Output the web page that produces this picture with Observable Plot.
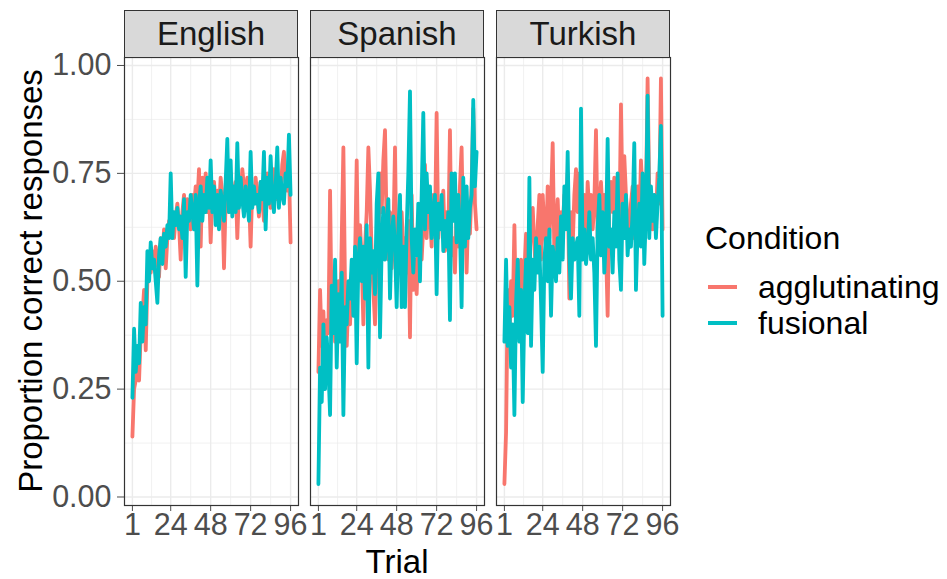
<!DOCTYPE html>
<html><head><meta charset="utf-8">
<script src="https://cdn.jsdelivr.net/npm/d3@7"></script>
<script src="https://cdn.jsdelivr.net/npm/@observablehq/plot@0.6"></script>
<style>
body{margin:0;background:#fff;font-family:"Liberation Sans",Arial,sans-serif;}
#wrap{position:relative;width:947px;height:579px;overflow:hidden;background:#fff;}
#wrap svg{position:absolute;left:0;top:0;}
.strip{position:absolute;box-sizing:border-box;background:#D9D9D9;border:1.2px solid #333333;color:#1A1A1A;font-size:33px;display:flex;align-items:center;justify-content:center;line-height:1;}
.t{position:absolute;white-space:nowrap;line-height:1;}
.key{position:absolute;height:4px;width:29px;}
</style></head>
<body><div id="wrap"></div>
<script>
const languages = ["English", "Spanish", "Turkish"];
const conditions = ["agglutinating", "fusional"];
const conditionColors = ["#F8766D", "#00BFC4"];
const trials = d3.range(1, 97);
const xTicks = [1, 24, 48, 72, 96];
const xMinor = [12.5, 36, 60, 84];
const yTicks = [0, 0.25, 0.5, 0.75, 1];
const yMinor = [0.125, 0.375, 0.625, 0.875];

const englishAgg = [
0.14,0.25,0.27,0.32,0.27,0.38,0.42,0.48,0.34,0.50,0.55,0.52,
0.57,0.53,0.58,0.55,0.51,0.60,0.56,0.62,0.53,0.60,0.64,0.62,
0.66,0.60,0.65,0.68,0.63,0.55,0.66,0.70,0.64,0.69,0.66,0.62,
0.70,0.67,0.72,0.68,0.76,0.58,0.74,0.70,0.75,0.66,0.72,0.59,
0.70,0.73,0.68,0.71,0.66,0.74,0.70,0.53,0.69,0.72,0.66,0.75,
0.70,0.68,0.73,0.60,0.71,0.69,0.76,0.72,0.67,0.74,0.70,0.58,
0.72,0.68,0.74,0.70,0.65,0.73,0.69,0.64,0.72,0.75,0.70,0.67,
0.73,0.76,0.69,0.72,0.74,0.70,0.77,0.80,0.73,0.71,0.76,0.59];
const englishFus = [
0.23,0.39,0.29,0.35,0.31,0.45,0.36,0.44,0.40,0.57,0.50,0.59,
0.53,0.55,0.50,0.45,0.56,0.60,0.54,0.61,0.58,0.63,0.60,0.75,
0.60,0.66,0.63,0.67,0.62,0.65,0.60,0.69,0.51,0.66,0.64,0.70,
0.66,0.62,0.70,0.49,0.68,0.72,0.64,0.70,0.66,0.74,0.67,0.78,
0.66,0.72,0.63,0.70,0.62,0.71,0.68,0.64,0.73,0.83,0.66,0.78,
0.65,0.72,0.66,0.82,0.67,0.74,0.69,0.65,0.72,0.68,0.64,0.80,
0.67,0.72,0.68,0.70,0.66,0.73,0.69,0.80,0.62,0.74,0.68,0.79,
0.70,0.66,0.72,0.81,0.67,0.74,0.70,0.68,0.75,0.72,0.84,0.70];
const spanishAgg = [
0.29,0.48,0.35,0.43,0.31,0.41,0.38,0.71,0.40,0.52,0.36,0.45,
0.50,0.39,0.60,0.81,0.48,0.35,0.46,0.40,0.52,0.44,0.55,0.78,
0.50,0.63,0.55,0.40,0.58,0.66,0.81,0.71,0.56,0.48,0.40,0.55,
0.60,0.75,0.66,0.78,0.85,0.62,0.55,0.66,0.53,0.60,0.81,0.50,
0.61,0.58,0.66,0.57,0.60,0.52,0.64,0.37,0.70,0.48,0.55,0.47,
0.59,0.66,0.55,0.63,0.77,0.60,0.72,0.66,0.58,0.70,0.62,0.89,
0.60,0.68,0.64,0.71,0.57,0.66,0.60,0.85,0.56,0.60,0.52,0.66,
0.58,0.72,0.81,0.60,0.70,0.52,0.66,0.61,0.72,0.90,0.68,0.62];
const spanishFus = [
0.03,0.30,0.22,0.40,0.25,0.37,0.30,0.19,0.49,0.38,0.55,0.30,
0.47,0.36,0.52,0.19,0.44,0.40,0.50,0.46,0.55,0.42,0.58,0.31,
0.55,0.60,0.50,0.58,0.46,0.63,0.30,0.60,0.52,0.57,0.47,0.68,
0.75,0.37,0.58,0.67,0.55,0.63,0.69,0.46,0.60,0.65,0.58,0.44,
0.62,0.70,0.44,0.58,0.44,0.62,0.75,0.94,0.60,0.52,0.62,0.56,
0.68,0.50,0.70,0.89,0.62,0.75,0.66,0.72,0.60,0.66,0.70,0.47,
0.68,0.62,0.70,0.57,0.64,0.58,0.66,0.41,0.75,0.64,0.75,0.59,
0.70,0.62,0.44,0.74,0.58,0.72,0.60,0.67,0.70,0.92,0.72,0.80];
const turkishAgg = [
0.03,0.15,0.48,0.36,0.50,0.42,0.63,0.40,0.50,0.46,0.55,0.38,
0.52,0.61,0.48,0.55,0.62,0.67,0.58,0.52,0.63,0.70,0.55,0.70,
0.62,0.58,0.72,0.60,0.68,0.82,0.56,0.62,0.69,0.58,0.66,0.62,
0.70,0.64,0.75,0.46,0.66,0.58,0.70,0.76,0.66,0.75,0.72,0.64,
0.70,0.60,0.73,0.66,0.70,0.62,0.68,0.85,0.60,0.66,0.73,0.65,
0.70,0.58,0.42,0.68,0.73,0.66,0.74,0.62,0.70,0.60,0.91,0.66,
0.79,0.70,0.64,0.58,0.68,0.72,0.60,0.66,0.72,0.62,0.78,0.70,
0.74,0.68,0.97,0.70,0.66,0.62,0.70,0.64,0.75,0.68,0.97,0.62];
const turkishFus = [
0.36,0.55,0.35,0.44,0.30,0.40,0.19,0.45,0.55,0.36,0.48,0.22,
0.44,0.55,0.38,0.74,0.35,0.55,0.48,0.60,0.52,0.58,0.45,0.29,
0.55,0.60,0.50,0.62,0.42,0.58,0.55,0.50,0.60,0.52,0.65,0.55,
0.72,0.62,0.80,0.56,0.46,0.60,0.55,0.58,0.60,0.42,0.90,0.55,
0.62,0.54,0.58,0.66,0.55,0.60,0.52,0.35,0.62,0.70,0.56,0.66,
0.52,0.60,0.83,0.58,0.62,0.52,0.66,0.58,0.75,0.55,0.48,0.68,
0.60,0.70,0.56,0.62,0.58,0.66,0.82,0.48,0.62,0.68,0.58,0.75,
0.54,0.66,0.93,0.60,0.72,0.64,0.70,0.60,0.68,0.74,0.86,0.42];

const series = [
  ["English", "agglutinating", englishAgg], ["English", "fusional", englishFus],
  ["Spanish", "agglutinating", spanishAgg], ["Spanish", "fusional", spanishFus],
  ["Turkish", "agglutinating", turkishAgg], ["Turkish", "fusional", turkishFus]
];
const data = [];
for (const [language, condition, vals] of series)
  vals.forEach((v, i) => data.push({language, condition, trial: trials[i], prop: v}));

const W = 947, H = 579, mL = 123, mR = 276, mT = 57, mB = 74;
const plot = Plot.plot({
  width: W, height: H,
  marginLeft: mL, marginRight: mR, marginTop: mT, marginBottom: mB,
  style: {background: "transparent", fontSize: "30.5px", fontFamily: "'Liberation Sans', Arial, sans-serif", color: "#4D4D4D", overflow: "visible"},
  fx: {domain: languages, paddingInner: 0.067, paddingOuter: 0, axis: null},
  x: {domain: [-3.75, 100.75], ticks: xTicks, tickSize: 6, tickPadding: 2, label: null, tickFormat: d => String(d)},
  y: {domain: [-0.0197, 1.0185], ticks: yTicks, tickSize: 7, tickPadding: 6, label: null, tickFormat: d3.format(".2f")},
  color: {domain: conditions, range: conditionColors},
  marks: [
    Plot.gridX(xMinor, {stroke: "#EBEBEB", strokeOpacity: 1, strokeWidth: 0.7}),
    Plot.gridY(yMinor, {stroke: "#EBEBEB", strokeOpacity: 1, strokeWidth: 0.7}),
    Plot.gridX(xTicks, {stroke: "#EBEBEB", strokeOpacity: 1, strokeWidth: 1.4}),
    Plot.gridY(yTicks, {stroke: "#EBEBEB", strokeOpacity: 1, strokeWidth: 1.4}),
    Plot.line(data, {fx: "language", x: "trial", y: "prop", z: "condition", stroke: "condition", strokeWidth: 3.8, strokeLinejoin: "round"}),
    Plot.frame({stroke: "#333333", strokeWidth: 1.2})
  ]
});
const wrap = document.getElementById("wrap");
wrap.appendChild(plot);

// facet strips positioned from the fx scale
const fx = plot.scale("fx");
const bw = fx.bandwidth;
for (const lang of languages) {
  const s = document.createElement("div");
  s.className = "strip";
  const x0 = fx.apply(lang) + (fx.apply(lang) < mL - 1 ? mL : 0);
  s.style.left = x0 + "px";
  s.style.top = "9.5px";
  s.style.width = bw + "px";
  s.style.height = (mT - 9.5 + 0.6) + "px";
  s.textContent = lang;
  wrap.appendChild(s);
}

function addText(txt, x, y, size, color, rotate) {
  const d = document.createElement("div");
  d.className = "t";
  d.textContent = txt;
  d.style.fontSize = size + "px";
  d.style.color = color;
  d.style.left = x + "px";
  d.style.top = y + "px";
  d.style.transform = rotate ? "translate(-50%,-50%) rotate(-90deg)" : "translate(-50%,-50%)";
  wrap.appendChild(d);
  return d;
}
addText("Proportion correct responses", 30, (mT + H - mB) / 2, 33, "#000", true);
addText("Trial", (mL + W - mR) / 2, 561, 33, "#000", false);

// legend
const lt = addText("Condition", 0, 238, 32, "#000", false);
lt.style.transform = "translate(0,-50%)"; lt.style.left = "705px";
conditions.forEach((c, i) => {
  const y = 287 + i * 36;
  const k = document.createElement("div");
  k.className = "key";
  k.style.left = "708px"; k.style.top = (y - 2) + "px";
  k.style.background = conditionColors[i];
  wrap.appendChild(k);
  const l = addText(c, 0, y, 32, "#000", false);
  l.style.transform = "translate(0,-50%)"; l.style.left = "758px";
});
</script></body></html>
